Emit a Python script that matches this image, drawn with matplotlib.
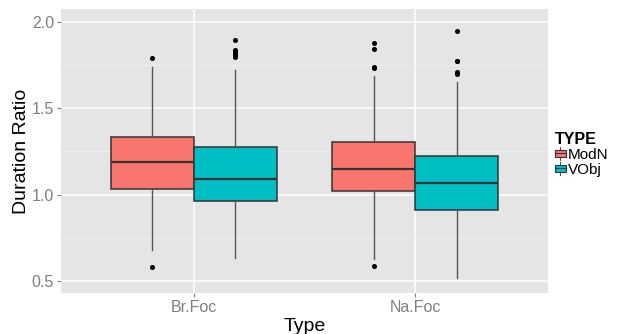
import matplotlib
matplotlib.use("Agg")
import matplotlib.pyplot as plt
from matplotlib.legend_handler import HandlerBase
from matplotlib.patches import Rectangle
from matplotlib.lines import Line2D

plt.rcParams['font.family'] = ['Liberation Sans', 'DejaVu Sans']

# ---- data ----
categories = ["Br.Foc", "Na.Foc"]
groups = ["ModN", "VObj"]
colors = {"ModN": "#F8766D", "VObj": "#00BFC4"}

# per group: [Br.Foc, Na.Foc]
q1 = {"ModN": [1.033, 1.021], "VObj": [0.964, 0.912]}
med = {"ModN": [1.187, 1.150], "VObj": [1.091, 1.066]}
q3 = {"ModN": [1.332, 1.303], "VObj": [1.276, 1.222]}
whislo = {"ModN": [0.680, 0.627], "VObj": [0.636, 0.520]}
whishi = {"ModN": [1.740, 1.688], "VObj": [1.721, 1.653]}
fliers = {
    "ModN": [[1.792, 0.580], [1.875, 1.840, 1.740, 1.731, 0.588]],
    "VObj": [[1.892, 1.836, 1.825, 1.817, 1.806, 1.796], [1.946, 1.775, 1.771, 1.711, 1.695]],
}
yticks = [0.5, 1.0, 1.5, 2.0]
yminor = [0.75, 1.25, 1.75]

# ---- figure ----
W, H = 628, 334
fig = plt.figure(figsize=(W / 100, H / 100), dpi=100)
ax = fig.add_axes([61 / W, 1 - 293 / H, (548 - 61) / W, (293 - 9) / H])
ax.set_facecolor("#E5E5E5")
for s in ax.spines.values():
    s.set_visible(False)

ax.set_xlim(0.4, 2.6)
ax.set_ylim(0.432, 2.073)

# grid
ax.set_yticks(yticks)
ax.set_yticks(yminor, minor=True)
ax.set_xticks([1, 2])
ax.set_xticklabels(categories)
ax.set_yticklabels([f"{v:.1f}" for v in yticks])
ax.grid(True, which="major", color="white", linewidth=1.1)
ax.grid(True, which="minor", axis="y", color="#F2F2F2", linewidth=0.6)
ax.set_axisbelow(True)

grey = "#7F7F7F"
ax.tick_params(axis="both", which="major", colors=grey, labelcolor=grey,
               labelsize=11.5, length=3, width=0.8, pad=2)
ax.tick_params(axis="y", which="minor", length=0)

width = 0.375
for gi, g in enumerate(groups):
    offset = (-0.5 + gi) * width
    stats = []
    for ci in range(len(categories)):
        stats.append(dict(med=med[g][ci], q1=q1[g][ci], q3=q3[g][ci],
                          whislo=whislo[g][ci], whishi=whishi[g][ci],
                          fliers=fliers[g][ci]))
    positions = [ci + 1 + offset for ci in range(len(categories))]
    ax.bxp(stats, positions=positions, widths=width, patch_artist=True,
           showcaps=False, manage_ticks=False,
           boxprops=dict(facecolor=colors[g], edgecolor="#333333", linewidth=1.1),
           medianprops=dict(color="#333333", linewidth=1.6),
           whiskerprops=dict(color="#555555", linewidth=1.0),
           flierprops=dict(marker="o", markerfacecolor="black", markeredgecolor="black",
                           markersize=2.6, linestyle="none"))

ax.set_ylabel("Duration Ratio", fontsize=14, color="black", labelpad=1)
ax.set_xlabel("Type", fontsize=14, color="black", labelpad=2)


class BoxKey(HandlerBase):
    def create_artists(self, legend, orig_handle, xdescent, ydescent, width, height, fontsize, trans):
        fc = orig_handle.get_facecolor()
        cx = -xdescent + width / 2
        arts = [
            Line2D([cx, cx], [-ydescent - 1, -ydescent + height + 1], color="#555555", lw=0.8, transform=trans),
            Rectangle((-xdescent, -ydescent + 1), width, height - 2, facecolor=fc,
                      edgecolor="#333333", lw=0.8, transform=trans),
            Line2D([-xdescent, -xdescent + width], [-ydescent + height / 2] * 2, color="#333333", lw=0.8, transform=trans),
        ]
        return arts


handles = [Rectangle((0, 0), 1, 1, facecolor=colors[g]) for g in groups]
leg = fig.legend(handles, groups, handler_map={Rectangle: BoxKey()},
                 loc="upper left", bbox_to_anchor=(552 / W, 1 - 129 / H),
                 frameon=False, fontsize=11, title="TYPE",
                 title_fontproperties={"weight": "bold", "size": 11.5},
                 alignment="left", handlelength=0.7, handleheight=0.65,
                 handletextpad=0.15, labelspacing=0.05, borderpad=0.2, borderaxespad=0)

fig.savefig("out.png", dpi=100)
